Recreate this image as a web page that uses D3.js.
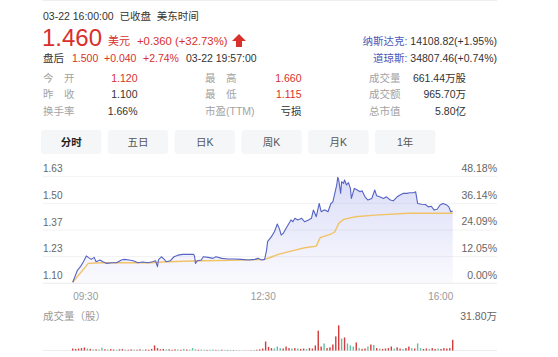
<!DOCTYPE html>
<html><head><meta charset="utf-8">
<script src="https://cdn.jsdelivr.net/npm/d3@7"></script>
<style>
html,body{margin:0;padding:0;background:#fff;}
svg{display:block;font-family:"Liberation Sans",Arial,"Noto Sans CJK SC",sans-serif;}
</style></head><body>
<svg id="c" width="558" height="357"></svg>
<script>
// ---------- data ----------
const priceMin = [0,5,8,11,14,16,19,22,24,28,31,35,40,45,50,53,58,62,67,72,77,82,85,87,88,91,94,96,100,104,108,113,118,124,125,126,128,132,134,139,144,147,153,159,166,173,180,187,190,194,197,199,200,204,207,210,212,214,216,218,221,224,226,228,231,235,238,242,245,247,250,253,255,258,259,262,265,267,269,271,272,273,275,276,278,279,281,283,285,286,289,292,295,297,300,303,307,310,312,315,319,322,326,329,333,336,339,343,346,350,352,354,358,362,365,368,371,374,377,380,384,386,388,390];
const priceVal = [1.105,1.166,1.183,1.207,1.236,1.229,1.219,1.229,1.207,1.216,1.207,1.199,1.202,1.202,1.216,1.219,1.216,1.212,1.202,1.206,1.202,1.207,1.212,1.183,1.216,1.232,1.219,1.207,1.212,1.232,1.240,1.244,1.244,1.244,1.236,1.199,1.212,1.216,1.232,1.229,1.224,1.232,1.224,1.221,1.221,1.219,1.216,1.219,1.224,1.216,1.219,1.265,1.307,1.332,1.356,1.395,1.373,1.340,1.348,1.365,1.390,1.415,1.406,1.423,1.415,1.423,1.406,1.415,1.423,1.464,1.431,1.497,1.456,1.464,1.464,1.456,1.497,1.505,1.547,1.589,1.627,1.614,1.547,1.605,1.597,1.614,1.589,1.600,1.572,1.522,1.572,1.564,1.555,1.560,1.530,1.514,1.522,1.564,1.535,1.530,1.522,1.530,1.514,1.510,1.530,1.539,1.547,1.547,1.550,1.550,1.555,1.497,1.493,1.492,1.480,1.483,1.464,1.468,1.489,1.497,1.489,1.480,1.456,1.460];
const avgMin = [0,16,30,80,97,132,163,197,202,211,224,238,250,254,265,269,273,278,290,310,344,390];
const avgVal = [1.105,1.199,1.202,1.202,1.207,1.212,1.214,1.219,1.227,1.244,1.260,1.277,1.285,1.327,1.344,1.356,1.398,1.418,1.431,1.439,1.448,1.448];
// volume in 万股, one bar per 3-minute step; r = up, g = down
const volume = [2.5,2,2.5,3,3.8,2.5,2,1.5,1.5,1.3,3.5,1.5,1.3,1.8,1.3,1,1.5,1.8,1.2,1,1.5,1.2,1,1.5,1,1.3,1,2,6.4,3,1.5,2,1.3,1.5,1,1.5,1.2,1,2,1.3,1,3.2,1.5,1,1.3,1,0.8,1,1.2,0.8,0.8,1,0.8,0.7,0.8,0.6,0.5,0.3,0.3,0.3,0.3,0.5,0.8,1,1.5,2.5,11.4,4.5,3,2.5,5,3,2.5,5,3,2.5,3,2.5,2,2.5,2,3,2.5,6.4,25,5,8.9,3,4,7.6,17.8,31.8,15,16.5,8.9,6.4,5,10.2,3,2,2.5,5,7.6,7,3,2.5,2,2.5,3,5,2.5,4,2.5,2,3,5,3,2.5,8.9,3,2,2.5,2,3,2,2.5,2,3,2.5,3,13.5];
const volDir = "rrrrrgrgrg"+"grgrrgrrgr"+"rgrrgrrrrr"+"rrgrrrgrgr"+"gggrggrggr"+"grgrgrgrgr"+"grgrrrrrrg"+"ggrrrgrgrr"+"grrrrrgrrr"+"rrgrgggrgr"+"rgrgrgrrrr"+"grrgrrgrgg"+"rrgrrgrrrr"+"r";
const volStep = 3;
const volMax = 31.8;
const xTickLabels = ["09:30","12:30","16:00"];
const xTickPos = [0,195,390];
const priceTicks = [1.10,1.2325,1.365,1.4975,1.63];
const priceTickLabels = ["1.10","1.23","1.37","1.50","1.63"];
const pctTickLabels = ["0.00%","12.05%","24.09%","36.14%","48.18%"];
const tabs = ["分时","五日","日K","周K","月K","1年"];
const infoLabels = [["今　开","昨　收","换手率"],["最　高","最　低","市盈(TTM)"],["成交量","成交额","总市值"]];
const infoValues = [["1.120","1.100","1.66%"],["1.660","1.115","亏损"],["661.44万股","965.70万","5.80亿"]];
const infoRed = [[true,false,false],[true,true,false],[false,false,false]];

// ---------- drawing ----------
const RED="#d9302b", GREEN="#62bea3", DARK="#333", GRAY="#999", BLUE="#4b57b8";
const svg = d3.select("#c");

svg.append("line").attr("x1",43).attr("x2",497).attr("y1",0.5).attr("y2",0.5).attr("stroke","#eee");

// header
const hdr = svg.append("g");
hdr.append("text").attr("x",43).attr("y",20).attr("font-size",10.5).attr("fill",DARK)
  .attr("xml:space","preserve").text("03-22 16:00:00  已收盘  美东时间");
hdr.append("text").attr("x",42).attr("y",45.5).attr("font-size",24).attr("fill",RED).text("1.460");
hdr.append("text").attr("x",108).attr("y",45).attr("font-size",11).attr("fill",RED).text("美元");
hdr.append("text").attr("x",137).attr("y",45).attr("font-size",11.3).attr("fill",RED).text("+0.360 (+32.73%)");
hdr.append("path").attr("d","M239,34 L246,41 L242,41 L242,47 L236,47 L236,41 L232,41 Z").attr("fill",RED);
[["盘后",43,DARK],["1.500",72,RED],["+0.040",104,RED],["+2.74%",143,RED],["03-22 19:57:00",186,DARK]].forEach(d=>{
  hdr.append("text").attr("x",d[1]).attr("y",61.5).attr("font-size",10.5).attr("fill",d[2]).text(d[0]);
});
[["纳斯达克: ","14108.82(+1.95%)",45],["道琼斯: ","34807.46(+0.74%)",61.5]].forEach(d=>{
  const t = hdr.append("text").attr("x",497).attr("y",d[2]).attr("font-size",10.5).attr("text-anchor","end")
    .attr("xml:space","preserve");
  t.append("tspan").attr("fill",BLUE).text(d[0]);
  t.append("tspan").attr("fill",DARK).text(d[1]);
});
// info grid
const colLabelX=[43,205,369], colValX=[137.5,301.5,466], rowY=[81.5,98,115];
infoLabels.forEach((col,ci)=>col.forEach((lab,ri)=>{
  hdr.append("text").attr("x",colLabelX[ci]).attr("y",rowY[ri]).attr("font-size",10.5).attr("fill","#a3a3a3")
    .attr("xml:space","preserve").text(lab);
  hdr.append("text").attr("x",colValX[ci]).attr("y",rowY[ri]).attr("font-size",10.5).attr("text-anchor","end")
    .attr("fill",infoRed[ci][ri]?RED:DARK).text(infoValues[ci][ri]);
}));
// tabs
tabs.forEach((t,i)=>{
  const x = 41 + i*66.8;
  hdr.append("rect").attr("x",x).attr("y",130).attr("width",60.3).attr("height",24).attr("rx",3).attr("fill","#f5f6f8");
  hdr.append("text").attr("x",x+30.15).attr("y",146).attr("text-anchor","middle").attr("font-size",10.5)
    .attr("font-weight",i===0?"bold":"normal").attr("fill",i===0?"#222":"#555").text(t);
});

// chart
const x = d3.scaleLinear().domain([0,390]).range([72.7,452.7]);
const y = d3.scaleLinear().domain([1.10,1.63]).range([283.3,176.7]);
const pct = d3.scaleLinear().domain([0,48.18]).range([283.3,176.7]);
const gl=43, gr=497;

const grid = svg.append("g");
priceTicks.forEach((v,i)=>{
  grid.append("line").attr("x1",gl).attr("x2",gr).attr("y1",y(v)).attr("y2",y(v))
    .attr("stroke", i===0?"#ebebeb":"#f2f2f2").attr("stroke-width",1);
});
const yl = svg.append("g").attr("transform",`translate(${gl},0)`)
  .call(d3.axisRight(y).tickValues(priceTicks).tickFormat((d,i)=>priceTickLabels[i]).tickSize(0).tickPadding(0));
yl.select(".domain").remove();
yl.selectAll("text").attr("dy",-5).attr("font-size",10).attr("fill","#666").attr("font-family",null);
const yr = svg.append("g").attr("transform",`translate(${gr},0)`)
  .call(d3.axisLeft(pct).tickValues(priceTicks.map(v=>(v-1.10)/1.10*100)).tickFormat((d,i)=>pctTickLabels[i]).tickSize(0).tickPadding(0));
yr.select(".domain").remove();
yr.selectAll("text").attr("dy",-5).attr("font-size",10.5).attr("fill","#666").attr("font-family",null);

const defs = svg.append("defs");
const lg = defs.append("linearGradient").attr("id","ag").attr("x1",0).attr("x2",0).attr("y1",0).attr("y2",1);
lg.append("stop").attr("offset","0%").attr("stop-color","#5a64dc").attr("stop-opacity",0.22);
lg.append("stop").attr("offset","100%").attr("stop-color","#5a64dc").attr("stop-opacity",0.03);

const pts = priceMin.map((m,i)=>[m,priceVal[i]]);
svg.append("path").datum(pts)
  .attr("d", d3.area().x(d=>x(d[0])).y0(y(1.10)).y1(d=>y(d[1])))
  .attr("fill","url(#ag)");
svg.append("path").datum(avgMin.map((m,i)=>[m,avgVal[i]]))
  .attr("d", d3.line().x(d=>x(d[0])).y(d=>y(d[1])))
  .attr("fill","none").attr("stroke","#f2c266").attr("stroke-width",1.4);
svg.append("path").datum(pts)
  .attr("d", d3.line().x(d=>x(d[0])).y(d=>y(d[1])))
  .attr("fill","none").attr("stroke","#5563c4").attr("stroke-width",1.1).attr("stroke-linejoin","round");

const xa = svg.append("g").attr("transform","translate(0,284)")
  .call(d3.axisBottom(x).tickValues(xTickPos).tickFormat((d,i)=>xTickLabels[i]).tickSize(0).tickPadding(0));
xa.select(".domain").remove();
xa.selectAll("text").attr("dy",15.5).attr("font-size",10).attr("fill","#999").attr("font-family",null)
  .attr("text-anchor",(d,i)=>i===0?"start":(i===2?"end":"middle"));

// volume
svg.append("text").attr("x",43).attr("y",320).attr("font-size",10.5).attr("fill","#999").text("成交量（股）");
svg.append("text").attr("x",497).attr("y",320).attr("font-size",10.5).attr("fill","#666").attr("text-anchor","end").text("31.80万");
const vy = d3.scaleLinear().domain([0,volMax]).range([350.5,325.3]);
svg.append("line").attr("x1",gl).attr("x2",gr).attr("y1",350.5).attr("y2",350.5).attr("stroke","#ececec");
svg.append("g").selectAll("rect").data(volume).join("rect")
  .attr("x",(d,i)=>x(i*volStep)-0.7).attr("width",1.4)
  .attr("y",d=>vy(d)).attr("height",d=>vy(0)-vy(d))
  .attr("fill",(d,i)=>volDir[i]==="r"?"#d23b3b":GREEN);
</script>
</body></html>
